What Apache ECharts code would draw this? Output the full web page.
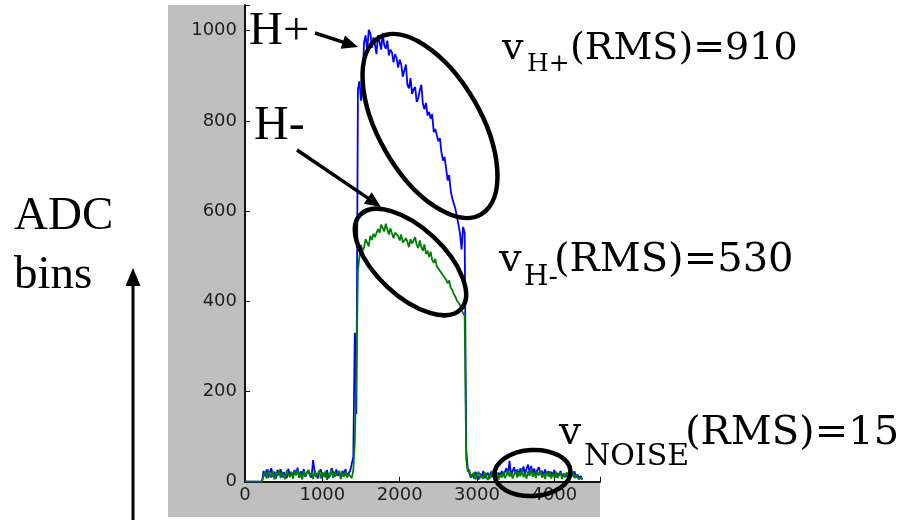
<!DOCTYPE html>
<html><head><meta charset="utf-8">
<script src="https://cdn.jsdelivr.net/npm/echarts@6/dist/echarts.min.js"></script>
<style>html,body{margin:0;padding:0;background:#fff}#c{width:902px;height:520px}</style>
</head><body><div id="c"></div>
<script>
// sample positions (x)
const sampleX = [0,220,
240,260,280,300,320,340,360,380,400,420,440,460,480,500,520,540,560,580,600,620,640,660,680,700,720,740,760,780,800,820,840,860,880,900,920,940,960,980,1000,1020,1040,1060,1080,1100,1120,1140,1160,1180,1200,1220,1240,1260,1280,1300,1320,1340,1360,
1380,1400,1420,1440,1460,1480,1500,1520,1540,1560,1580,1600,1620,1640,1660,1680,1700,1720,1740,1760,1780,1800,1820,1840,1860,1880,1900,1920,1940,1960,1980,2000,2020,2040,2060,2080,2100,2120,2140,2160,2180,2200,2220,2240,2260,2280,2300,2320,2340,2360,2380,2400,2420,2440,2460,2480,2500,2520,2540,2560,2580,2600,2620,2640,2660,2680,2700,2720,2740,2760,2780,2800,2820,2840,2860,2880,
2900,2920,2940,2960,2980,3000,3020,3040,3060,3080,3100,3120,3140,3160,3180,3200,3220,3240,3260,3280,3300,3320,3340,3360,3380,3400,3420,3440,3460,3480,3500,3520,3540,3560,3580,3600,3620,3640,3660,3680,3700,3720,3740,3760,3780,3800,3820,3840,3860,3880,3900,3920,3940,3960,3980,4000,4020,4040,4060,4080,4100,4120,4140,4160,4180,4200,4220,4240,4260,4280,4300,4320,4340,4360];

// H+ signal (blue)
const hPlus = [0,0,
24,12,27,9,20,30,11,22,7,26,15,28,10,21,24,8,29,14,22,12,26,17,31,9,23,13,28,11,20,25,14,9,48,24,16,7,22,27,12,19,10,26,8,17,30,21,11,27,13,20,9,24,16,28,11,19,24,
20,55,330,150,
870,888,845,895,975,990,955,1002,995,962,985,970,948,990,975,958,995,968,960,978,945,958,952,930,948,940,918,936,925,898,912,925,880,872,895,860,870,875,842,850,868,880,838,826,840,812,820,805,815,775,782,768,755,762,730,712,720,695,668,680,645,628,632,605,588,570,550,515,565,552,
70,30,
20,9,17,7,22,11,5,18,9,24,8,15,20,6,22,11,17,26,10,20,13,24,12,22,30,15,46,13,24,32,17,27,14,30,19,34,17,28,38,21,35,19,29,15,26,32,17,24,13,27,16,23,11,22,14,26,10,19,13,24,9,18,22,11,17,8,21,12,23,9,16,7,13,5];

// H- signal (green)
const hMinus = [0,0,
13,22,7,27,16,9,24,5,20,13,26,8,22,11,6,25,17,10,21,7,23,14,27,9,18,5,24,12,8,26,13,20,6,22,10,17,25,7,21,11,23,4,18,12,26,8,22,14,10,24,6,20,11,22,9,17,15,
8,25,90,240,
468,500,525,512,520,538,530,522,545,536,550,542,540,560,552,570,566,555,572,560,548,562,558,540,552,556,545,535,548,530,526,540,532,520,538,528,530,542,525,518,535,520,512,526,505,512,498,510,492,485,494,478,482,468,472,458,462,448,440,446,430,425,416,410,402,400,392,380,376,368,
50,22,
27,11,7,20,5,16,22,8,15,6,21,10,4,17,9,24,7,14,20,5,16,9,22,8,15,26,11,20,7,17,24,9,21,12,27,10,18,7,23,13,28,11,20,8,22,14,24,9,18,6,21,12,23,7,17,10,22,8,15,20,6,16,10,21,7,17,11,22,8,15,19,5,10,4];

const xTicks = [0,1000,2000,3000,4000];
const yTicks = [0,200,400,600,800,1000];

const chart = echarts.init(document.getElementById('c'), null, {renderer:'canvas'});

function arrow(x1,y1,x2,y2,headLen,headHalf,w){
  const dx=x2-x1, dy=y2-y1, L=Math.hypot(dx,dy), ux=dx/L, uy=dy/L;
  const bx=x2-ux*headLen, by=y2-uy*headLen;
  return [
    {type:'line', z:100, shape:{x1:x1,y1:y1,x2:bx+ux*2,y2:by+uy*2}, style:{stroke:'#000', lineWidth:w}},
    {type:'polygon', z:100, shape:{points:[[x2,y2],[bx-uy*headHalf,by+ux*headHalf],[bx+uy*headHalf,by-ux*headHalf]]}, style:{fill:'#000'}}
  ];
}
function txt(x,y,text,font){
  return {type:'text', z:100, x:x, y:y, style:{text:text, font:font, fill:'#000', align:'left', textAlign:'left', verticalAlign:'middle', textVerticalAlign:'middle'}};
}
function ell(cx,cy,rx,ry,deg){
  return {type:'ellipse', z:100, x:cx, y:cy, rotation:deg*Math.PI/180, shape:{cx:0,cy:0,rx:rx,ry:ry}, style:{fill:null, stroke:'#000', lineWidth:4.5}};
}
const SERIF = '"Liberation Serif", serif';
const DSERIF = '"DejaVu Serif", serif';

const graphics = [
  {type:'rect', z:-10, shape:{x:168,y:5,width:432,height:512}, style:{fill:'#bfbfbf'}},
  {type:'rect', z:-9, shape:{x:245,y:5,width:355,height:476.7}, style:{fill:'#ffffff'}},
  ell(430,126,102,51,-60),
  ell(410.5,262,69,34,-43),
  ell(532.5,473,38,23,3),
  ...arrow(315,33,358,47,16,7,3.5),
  ...arrow(297,150,381,207,16,7,3.5),
  ...arrow(133,520,133,268,18,7.5,3),
  txt(249,32,'H+','47px ' + SERIF),
  txt(254,126,'H-','48px ' + SERIF),
  txt(14,217,'ADC','47px ' + SERIF),
  txt(14,276,'bins','47px ' + SERIF),
  txt(502,49,'v','38px ' + DSERIF),
  txt(527,64.5,'H+','25px ' + DSERIF),
  txt(570,49,'(RMS)=910','38px ' + DSERIF),
  txt(499,261,'v','40px ' + DSERIF),
  txt(524,277.5,'H-','28px ' + DSERIF),
  txt(554,261,'(RMS)=530','40px ' + DSERIF),
  txt(559,433.5,'v','39px ' + DSERIF),
  txt(584,457,'NOISE','30px ' + DSERIF),
  txt(685,433.5,'(RMS)=15','40px ' + DSERIF)
];

const axisCommon = {
  axisLine:{show:true, onZero:false, lineStyle:{color:'#111', width:2}},
  axisTick:{show:true, inside:true, length:5, lineStyle:{color:'#111', width:1}},
  splitLine:{show:false}
};

chart.setOption({
  animation:false,
  backgroundColor:'#ffffff',
  grid:{left:245, top:5, width:355, height:476.7, show:false, outerBoundsMode:'none'},
  xAxis:Object.assign({type:'value', min:0, max:4590, interval:1000,
    axisLabel:{fontSize:18, color:'#1e1e1e', fontFamily:'"DejaVu Sans"', margin:5,
      formatter:function(v){return xTicks.indexOf(v)>=0 ? String(v) : '';}}}, axisCommon),
  yAxis:Object.assign({type:'value', min:0, max:1057, interval:200,
    axisLabel:{fontSize:18, color:'#1e1e1e', fontFamily:'"DejaVu Sans"', margin:8,
      formatter:function(v){return yTicks.indexOf(v)>=0 ? String(v) : '';}}}, axisCommon),
  series:[
    {type:'line', name:'H+', data:sampleX.map((x,i)=>[x,hPlus[i]]), showSymbol:false, symbol:'none',
      lineStyle:{color:'#0000ff', width:1.8}, itemStyle:{color:'#0000ff'}, emphasis:{disabled:true}, z:2},
    {type:'line', name:'H-', data:sampleX.map((x,i)=>[x,hMinus[i]]), showSymbol:false, symbol:'none',
      lineStyle:{color:'#008000', width:1.8}, itemStyle:{color:'#008000'}, emphasis:{disabled:true}, z:3}
  ],
  graphic:graphics
});
</script></body></html>
